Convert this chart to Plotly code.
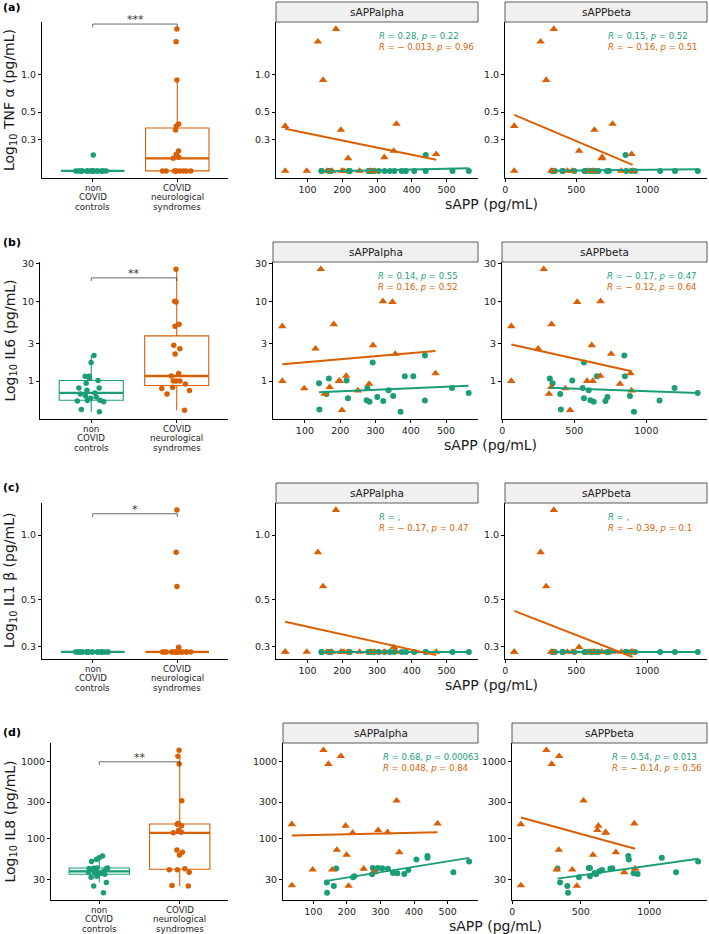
import numpy as np
import plotly.graph_objects as go

W, H = 709, 934
GREEN = "#1b9e77"
ORANGE = "#d95f02"
FONT = "DejaVu Sans"

# ---------------- data ----------------
# COVID neurological syndromes (one entry per patient)
covid_salpha = [130, 182, 145, 348, 36, 196, 470, 217, 293, 321, 170, 199, 356, 98, 156, 282, 250, 36, 205]
covid_sbeta = [249, 342, 288, 520, 63, 628, 890, 680, 621, 682, 340, 589, 756, 438, 324, 817, 897, 63, 471]
covid_tnf = [1.85, 2.34, 0.906, 0.242, 0.385, 0.358, 0.228, 0.211, 0.167, 0.215, 0.167, 0.167, 0.40, 0.167,
             0.167, 0.167, 0.167, 0.167, 0.167]
covid_il6 = [2.56, 5.2, 25.7, 9.9, 4.9, 1.0, 1.25, 1.16, 2.82, 10.1, 0.84, 1.0, 2.2, 0.81, 0.69, 0.92, 0.76,
             1.0, 0.43]
covid_il1b = [0.83, 1.31, 0.574, 0.298, 0.283, 0.283, 0.283, 0.283, 0.283, 0.283, 0.283, 0.283, 0.283, 0.283,
              0.283, 0.283, 0.283, 0.283, 0.283]
covid_il8 = [1416, 1184, 933, 313, 155, 148, 158, 120, 130, 122, 72, 62, 67, 40, 40, 37, 41, 25, 24.6]

# non COVID controls
ctrl_salpha = [140, 141, 161, 168, 218, 222, 275, 277, 283, 292, 305, 322, 337, 350, 371, 383, 407, 440, 440,
               517, 564]
ctrl_sbeta = [349, 407, 402, 330, 486, 567, 612, 558, 635, 567, 730, 716, 600, 886, 914, 656, 851, 847, 1091,
              1195, 1356]
ctrl_tnf = [0.167, 0.167, 0.167, 0.167, 0.167, 0.167, 0.167, 0.167, 0.167, 0.167, 0.167, 0.167, 0.167, 0.167,
            0.167, 0.167, 0.167, 0.225, 0.167, 0.167, 0.167]
ctrl_il6 = [0.94, 0.44, 0.69, 1.08, 1.02, 0.61, 0.575, 0.82, 0.55, 1.72, 0.63, 0.56, 0.77, 0.65, 0.41, 1.15,
            1.15, 2.1, 0.57, 0.82, 0.71]
ctrl_il1b = [0.283, 0.283, 0.283, 0.283, 0.283, 0.283, 0.283, 0.283, 0.283, 0.283, 0.283, 0.283, 0.283, 0.283,
             0.283, 0.283, 0.283, 0.283, 0.283, 0.283, 0.283]
ctrl_il8 = [27.2, 20, 24.6, 41.5, 31.9, 32.8, 34.8, 42, 38, 42, 41.8, 41.2, 36.3, 36, 35, 39.5, 54, 60, 57, 37, 51]

panel_letters = ["(a)", "(b)", "(c)", "(d)"]
cytokine_titles = ["Log<sub>10</sub> TNF α (pg/mL)", "Log<sub>10</sub> IL6 (pg/mL)",
                   "Log<sub>10</sub> IL1 β (pg/mL)", "Log<sub>10</sub> IL8 (pg/mL)"]
y_tickvals = [[0.3, 0.5, 1.0], [1, 3, 10, 30], [0.3, 0.5, 1.0], [30, 100, 300, 1000]]
y_ticktext = [["0.3", "0.5", "1.0"], ["1", "3", "10", "30"], ["0.3", "0.5", "1.0"], ["30", "100", "300", "1000"]]
group_labels = [["non", "COVID", "controls"], ["COVID", "neurological", "syndromes"]]
sig_labels = ["***", "**", "*", "**"]
sig_log_y = [0.41, 1.3, 0.1, 3.0]
facet_names = ["sAPPalpha", "sAPPbeta"]
alpha_ticks = [100, 200, 300, 400, 500]
beta_ticks = [0, 500, 1000]

stat_alpha_ctrl = ["<i>R</i> = 0.28, <i>p</i> = 0.22", "<i>R</i> = 0.14, <i>p</i> = 0.55",
                   "<i>R</i> = ,", "<i>R</i> = 0.68, <i>p</i> = 0.00063"]
stat_alpha_covid = ["<i>R</i> = \u2212 0.013, <i>p</i> = 0.96", "<i>R</i> = 0.16, <i>p</i> = 0.52",
                    "<i>R</i> = \u2212 0.17, <i>p</i> = 0.47", "<i>R</i> = 0.048, <i>p</i> = 0.84"]
stat_beta_ctrl = ["<i>R</i> = 0.15, <i>p</i> = 0.52", "<i>R</i> = \u2212 0.17, <i>p</i> = 0.47",
                  "<i>R</i> = ,", "<i>R</i> = 0.54, <i>p</i> = 0.013"]
stat_beta_covid = ["<i>R</i> = \u2212 0.16, <i>p</i> = 0.51", "<i>R</i> = \u2212 0.12, <i>p</i> = 0.64",
                   "<i>R</i> = \u2212 0.39, <i>p</i> = 0.1", "<i>R</i> = \u2212 0.14, <i>p</i> = 0.56"]

ctrl_rows = [ctrl_tnf, ctrl_il6, ctrl_il1b, ctrl_il8]
covid_rows = [covid_tnf, covid_il6, covid_il1b, covid_il8]

# ---------------- layout geometry (px) ----------------
row_top = [22, 262, 503, 743]
row_bot = [178, 419, 659, 900]
letter_y = [8, 243, 488, 732]
box_left = [42, 40, 42, 51]
alpha_left = [276, 273, 276, 283]
beta_left = [505, 502, 505, 512]
box_right, alpha_right, beta_right = 228, 478, 707
STRIP_H = 20
CAT_FIRST, CAT_STEP = 9.8, 9.4


def dx(a, b):
    return [a / W, b / W]


def dy(top, bottom):
    return [1 - bottom / H, 1 - top / H]


def ax_name(kind, i):
    return kind + ("axis" if i == 1 else f"axis{i}")


def ref(kind, i):
    return kind if i == 1 else f"{kind}{i}"


def pad_range(vals, frac=0.05):
    lo, hi = float(np.min(vals)), float(np.max(vals))
    s = hi - lo
    return [lo - frac * s, hi + frac * s]


fig = go.Figure()
shapes, annotations = [], []
layout = dict(width=W, height=H, margin=dict(l=0, r=0, t=0, b=0, autoexpand=False), paper_bgcolor="white",
              plot_bgcolor="white", showlegend=False, boxmode="overlay",
              font=dict(family=FONT, color="#1a1a1a"))

axis_common = dict(showline=True, linecolor="black", linewidth=1, ticks="outside", ticklen=3,
                   tickcolor="black", tickwidth=1, showgrid=False, zeroline=False,
                   tickfont=dict(size=9.5, family=FONT, color="#222"))

for r in range(4):
    ctrl = np.array(ctrl_rows[r], dtype=float)
    covid = np.array(covid_rows[r], dtype=float)
    yr = pad_range(np.log10(np.concatenate([ctrl, covid])))
    ids = [3 * r + 1, 3 * r + 2, 3 * r + 3]
    lefts = [box_left[r], alpha_left[r], beta_left[r]]
    rights = [box_right, alpha_right, beta_right]
    for k, i in enumerate(ids):
        xa = dict(axis_common, domain=dx(lefts[k], rights[k]), anchor=ref("y", i))
        ya = dict(axis_common, domain=dy(row_top[r], row_bot[r]), anchor=ref("x", i), type="log",
                  range=yr, tickvals=y_tickvals[r], ticktext=y_ticktext[r])
        layout[ax_name("x", i)] = xa
        layout[ax_name("y", i)] = ya

    # ---- box plot ----
    bi = ids[0]
    layout[ax_name("x", bi)].update(range=[0.4, 2.6], tickvals=[1, 2], showticklabels=False)
    for pos, vals, col in [(1, ctrl, GREEN), (2, covid, ORANGE)]:
        lv = np.log10(vals)
        q1, med, q3 = np.percentile(lv, [25, 50, 75])
        iqr = q3 - q1
        lf = lv[lv >= q1 - 1.5 * iqr].min()
        uf = lv[lv <= q3 + 1.5 * iqr].max()
        fig.add_trace(go.Box(x=[pos], q1=[10 ** q1], median=[10 ** med], q3=[10 ** q3],
                             lowerfence=[10 ** lf], upperfence=[10 ** uf], width=0.75, whiskerwidth=0,
                             line=dict(color=col, width=1.1), fillcolor="rgba(255,255,255,0)",
                             boxpoints=False, hoverinfo="skip", xaxis=ref("x", bi), yaxis=ref("y", bi)))
        fig.add_trace(go.Scatter(x=[pos - 0.375, pos + 0.375], y=[10 ** med, 10 ** med], mode="lines",
                                 line=dict(color=col, width=2.3), hoverinfo="skip",
                                 xaxis=ref("x", bi), yaxis=ref("y", bi)))
        fig.add_trace(go.Box(x=[pos] * len(vals), y=vals, boxpoints="all", jitter=0.55, pointpos=0,
                             width=0.75, line=dict(width=0, color="rgba(0,0,0,0)"),
                             fillcolor="rgba(0,0,0,0)", marker=dict(color=col, size=5.5),
                             xaxis=ref("x", bi), yaxis=ref("y", bi)))
        # category label lines (tight line spacing as in the original)
        for j, line in enumerate(group_labels[pos - 1]):
            annotations.append(dict(x=pos, y=1 - (row_bot[r] + CAT_FIRST + j * CAT_STEP) / H,
                                    xref=ref("x", bi), yref="paper", text=line, showarrow=False,
                                    xanchor="center", yanchor="middle",
                                    font=dict(size=8.7, family=FONT, color="#222")))
    # significance bracket
    tip = 0.02 * (yr[1] - yr[0])
    sy = sig_log_y[r]
    fig.add_trace(go.Scatter(x=[1, 1, 2, 2], y=[10 ** (sy - tip), 10 ** sy, 10 ** sy, 10 ** (sy - tip)],
                             mode="lines", line=dict(color="#444", width=0.8), hoverinfo="skip",
                             xaxis=ref("x", bi), yaxis=ref("y", bi)))
    annotations.append(dict(x=1.5, y=sy, xref=ref("x", bi), yref=ref("y", bi), text=sig_labels[r],
                            showarrow=False, xanchor="center", yanchor="bottom", yshift=-4,
                            font=dict(size=11, family=FONT, color="#333")))
    # y title & panel letter
    annotations.append(dict(x=10 / W, y=1 - (row_top[r] + row_bot[r]) / 2 / H, xref="paper", yref="paper",
                            text=cytokine_titles[r], textangle=-90, showarrow=False,
                            xanchor="center", yanchor="middle",
                            font=dict(size=14, family=FONT, color="#1a1a1a")))
    annotations.append(dict(x=1 / W, y=1 - letter_y[r] / H, xref="paper", yref="paper", xanchor="left",
                            yanchor="middle", text="<b>" + panel_letters[r] + "</b>", showarrow=False,
                            font=dict(size=11, family=FONT, color="black")))

    # ---- scatter facets ----
    facets = [(ids[1], ctrl_salpha, covid_salpha, alpha_ticks, stat_alpha_ctrl[r], stat_alpha_covid[r]),
              (ids[2], ctrl_sbeta, covid_sbeta, beta_ticks, stat_beta_ctrl[r], stat_beta_covid[r])]
    for f, (si, cx, vx, xt, st_ctrl, st_covid) in enumerate(facets):
        xr = pad_range(np.array(cx + vx, dtype=float))
        layout[ax_name("x", si)].update(range=xr, tickvals=xt, ticktext=[str(t) for t in xt])
        fig.add_trace(go.Scatter(x=cx, y=ctrl, mode="markers",
                                 marker=dict(symbol="circle", size=6, color=GREEN),
                                 xaxis=ref("x", si), yaxis=ref("y", si)))
        fig.add_trace(go.Scatter(x=vx, y=covid, mode="markers",
                                 marker=dict(symbol="triangle-up", size=7.5, color=ORANGE),
                                 xaxis=ref("x", si), yaxis=ref("y", si)))
        for xs, ys, col in [(cx, ctrl, GREEN), (vx, covid, ORANGE)]:
            xs = np.array(xs, dtype=float)
            slope, icpt = np.polyfit(xs, np.log10(ys), 1)
            xl = np.array([xs.min(), xs.max()])
            fig.add_trace(go.Scatter(x=xl, y=10 ** (slope * xl + icpt), mode="lines", hoverinfo="skip",
                                     line=dict(color=col, width=2), xaxis=ref("x", si), yaxis=ref("y", si)))
        ph = row_bot[r] - row_top[r]
        # strip
        shapes.append(dict(type="rect", xref=ref("x", si) + " domain", yref=ref("y", si) + " domain",
                           x0=0, x1=1, y0=1, y1=1 + STRIP_H / ph, fillcolor="#f0f0f0",
                           line=dict(color="#333", width=0.8), layer="above"))
        annotations.append(dict(x=0.5, y=1 + STRIP_H / 2 / ph, xref=ref("x", si) + " domain",
                                yref=ref("y", si) + " domain", text=facet_names[f], showarrow=False,
                                xanchor="center", yanchor="middle",
                                font=dict(size=10.5, family=FONT, color="#1a1a1a")))
        annotations.append(dict(x=0.5, y=1 - 13.7 / ph, xref=ref("x", si) + " domain",
                                yref=ref("y", si) + " domain", text=st_ctrl, showarrow=False,
                                xanchor="left", yanchor="middle",
                                font=dict(size=8.5, family=FONT, color=GREEN)))
        annotations.append(dict(x=0.5, y=1 - 24.7 / ph, xref=ref("x", si) + " domain",
                                yref=ref("y", si) + " domain", text=st_covid, showarrow=False,
                                xanchor="left", yanchor="middle",
                                font=dict(size=8.5, family=FONT, color=ORANGE)))
    annotations.append(dict(x=(alpha_left[r] + beta_right) / 2 / W, y=1 - (row_bot[r] + 26) / H,
                            xref="paper", yref="paper", text="sAPP (pg/mL)", showarrow=False,
                            xanchor="center", yanchor="middle",
                            font=dict(size=14, family=FONT, color="#1a1a1a")))

layout["shapes"] = shapes
layout["annotations"] = annotations
fig.update_layout(**layout)
fig.write_html("out.html", config={"displayModeBar": False},
               post_script="document.body.style.margin='0';document.body.style.overflow='hidden';")
